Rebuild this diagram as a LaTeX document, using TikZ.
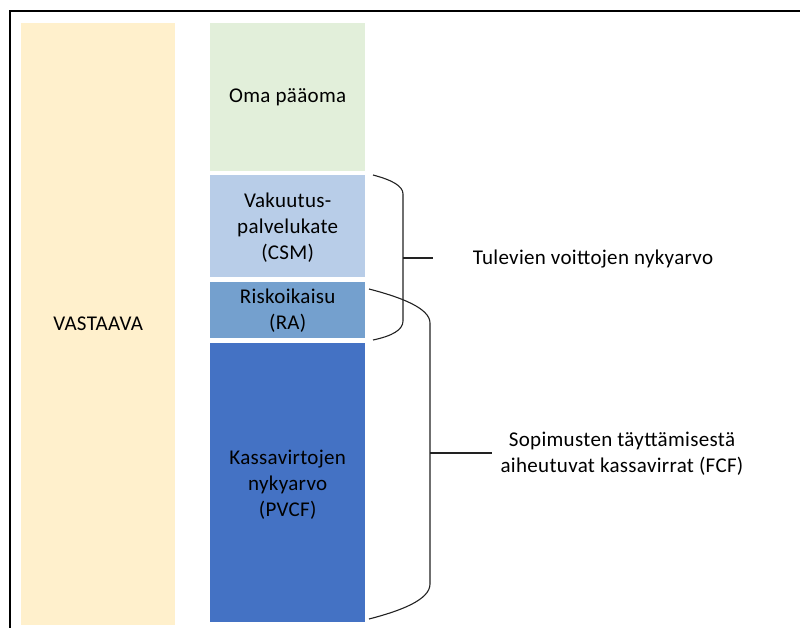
\documentclass[tikz,border=0pt]{standalone}
\usepackage{fontspec}
\setmainfont[LetterSpace=1.5]{Carlito}
\definecolor{assetfill}{HTML}{FFF0CC}
\definecolor{equityfill}{HTML}{E2EFDA}
\definecolor{csmfill}{HTML}{B8CDE8}
\definecolor{rafill}{HTML}{74A0CE}
\definecolor{pvcffill}{HTML}{4472C4}
\definecolor{bracecol}{HTML}{222222}
\tikzset{
  block/.style={draw=none, inner sep=0pt, anchor=north west},
  label/.style={inner sep=0pt, align=center, font=\fontsize{21}{26}\selectfont},
  bracket/.style={draw=bracecol, line width=1.1pt},
  frame/.style={line width=2.2pt, draw=black}
}
\begin{document}
\begin{tikzpicture}[x=1pt, y=-1pt]
  \useasboundingbox (0,0) rectangle (800,628);
  % outer frame (top and left edges)
  \draw[frame] (10,628) -- (10,11) -- (800,11);

  % balance sheet columns
  \node[block, fill=assetfill, minimum width=154pt, minimum height=602pt] (assets) at (21,23) {};
  \node[label] (assetstext) at (assets.center) {VASTAAVA};

  \node[block, fill=equityfill, minimum width=155pt, minimum height=148pt] (equity) at (210,23) {};
  \node[label] (equitytext) at (equity.center) {Oma pääoma};

  \node[block, fill=csmfill, minimum width=155pt, minimum height=102pt] (csm) at (210,175) {};
  \node[label] (csmtext) at ([yshift=-1pt]csm.center) {Vakuutus-\\palvelukate\\(CSM)};

  \node[block, fill=rafill, minimum width=155pt, minimum height=56pt] (ra) at (210,282) {};
  \node[label] (ratext) at (ra.center) {Riskoikaisu\\(RA)};

  \node[block, fill=pvcffill, minimum width=155pt, minimum height=279pt] (pvcf) at (210,343) {};
  \node[label] (pvcftext) at ([yshift=-2pt]pvcf.center) {Kassavirtojen\\nykyarvo\\(PVCF)};

  % bracket over CSM and RA
  \coordinate (b1top) at (373,175);
  \coordinate (b1bot) at (373,340);
  \coordinate (b1mid) at (403,258);
  \coordinate (b1tip) at (433,258);
  \draw[bracket] (b1top) .. controls (392,180) and (403,186) .. (403,194)
    -- (403,321) .. controls (403,330) and (392,336) .. (b1bot);
  \draw[bracket] (b1mid) -- (b1tip);
  \node[label] (future) at (593,259) {Tulevien voittojen nykyarvo};

  % bracket over RA and PVCF
  \coordinate (b2top) at (369,289);
  \coordinate (b2bot) at (369,619);
  \coordinate (b2mid) at (430,453);
  \coordinate (b2tip) at (492,453);
  \draw[bracket] (b2top) .. controls (400,297) and (430,308) .. (430,323)
    -- (430,584) .. controls (430,600) and (400,611) .. (b2bot);
  \draw[bracket] (b2mid) -- (b2tip);
  \node[label] (fcf) at (622,454) {Sopimusten täyttämisestä\\aiheutuvat kassavirrat (FCF)};
\end{tikzpicture}
\end{document}
